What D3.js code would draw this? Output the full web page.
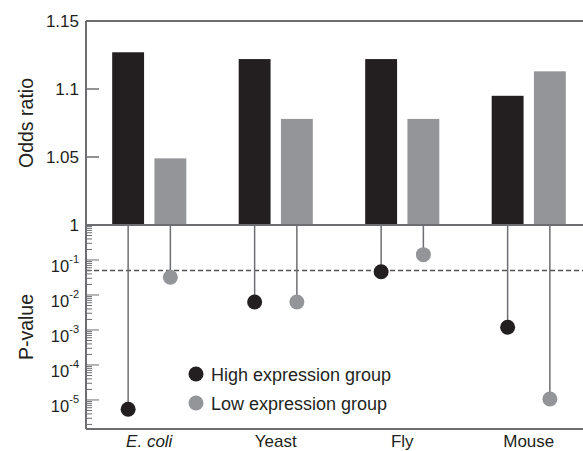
<!DOCTYPE html>
<html>
<head>
<meta charset="utf-8">
<script src="https://cdn.jsdelivr.net/npm/d3@7"></script>
<style>
  body { margin: 0; background: #fff; }
  text { font-family: "Liberation Sans", Arial, Helvetica, sans-serif; fill: #231f20; }
</style>
</head>
<body>
<script>
// values
let species = ["E. coli", "Yeast", "Fly", "Mouse"];
let groups = ["high", "low"];
let highOdds = [1.127, 1.122, 1.122, 1.095];
let lowOdds = [1.049, 1.078, 1.078, 1.113];
let highP = [5.4e-6, 0.0063, 0.046, 0.0012];
let lowP = [0.032, 0.0063, 0.142, 1.07e-5];
let oddsTicks = [1, 1.05, 1.1, 1.15];
let pExponents = [0, -1, -2, -3, -4, -5];
let legendLabels = ["High expression group", "Low expression group"];
let pCutoff = 0.05;

let width = 583, height = 451;
let plotLeft = 86, plotRight = 592, plotTop = 21, plotMid = 225, plotBottom = 429;
let colors = { high: "#231f20", low: "#939598" };
let axisColor = "#6d6e71";

let svg = d3.select("body")
    .append("svg")
    .attr("width", width)
    .attr("height", height);

let x = d3.scaleBand().domain(species).range([plotLeft, plotRight]);
let xs = d3.scaleBand().domain(groups).range([0, x.bandwidth()])
    .paddingInner(0.245).paddingOuter(0.62);

let yOdds = d3.scaleLinear().domain([1, 1.15]).range([plotMid, plotTop]);
let yP = d3.scaleLog().domain([1, Math.pow(10, -5.83)]).range([plotMid, plotBottom]);

let rows = species.map(function(s, i) {
  return [
    { sp: s, g: "high", odds: highOdds[i], p: highP[i] },
    { sp: s, g: "low", odds: lowOdds[i], p: lowP[i] }
  ];
}).flat();

function cx(d) { return x(d.sp) + xs(d.g) + xs.bandwidth() / 2; }

// bars
svg.append("g")
  .selectAll("rect")
  .data(rows)
  .join("rect")
  .attr("x", function(d) { return x(d.sp) + xs(d.g); })
  .attr("width", xs.bandwidth())
  .attr("y", function(d) { return yOdds(d.odds); })
  .attr("height", function(d) { return plotMid - yOdds(d.odds); })
  .attr("fill", function(d) { return colors[d.g]; });

// cutoff line
svg.append("line")
  .attr("x1", plotLeft).attr("x2", plotRight)
  .attr("y1", yP(pCutoff)).attr("y2", yP(pCutoff))
  .attr("stroke", "#555").attr("stroke-width", 1.5)
  .attr("stroke-dasharray", "5,3");

// lollipops
svg.append("g")
  .selectAll("line")
  .data(rows)
  .join("line")
  .attr("x1", cx).attr("x2", cx)
  .attr("y1", plotMid)
  .attr("y2", function(d) { return yP(d.p); })
  .attr("stroke", axisColor)
  .attr("stroke-width", 1.5);

svg.append("g")
  .selectAll("circle")
  .data(rows)
  .join("circle")
  .attr("cx", cx)
  .attr("cy", function(d) { return yP(d.p); })
  .attr("r", 7.5)
  .attr("fill", function(d) { return colors[d.g]; });

// frame
let frame = svg.append("g").attr("stroke", axisColor).attr("stroke-width", 2);
[plotTop, plotMid, plotBottom].forEach(function(y) {
  frame.append("line").attr("x1", plotLeft).attr("x2", plotRight).attr("y1", y).attr("y2", y);
});
frame.append("line").attr("x1", plotLeft).attr("x2", plotLeft).attr("y1", plotTop).attr("y2", plotBottom);

// odds ticks
let ot = svg.append("g");
ot.selectAll("line")
  .data(oddsTicks)
  .join("line")
  .attr("x1", plotLeft).attr("x2", plotLeft + 13)
  .attr("y1", yOdds).attr("y2", yOdds)
  .attr("stroke", axisColor).attr("stroke-width", 1.5);
ot.selectAll("text")
  .data(oddsTicks)
  .join("text")
  .attr("x", plotLeft - 7)
  .attr("y", function(d) { return yOdds(d) + 6; })
  .attr("text-anchor", "end")
  .attr("font-size", 17)
  .text(function(d) { return d3.format("")(d); });

// p-value ticks
let pTicks = yP.ticks();
svg.append("g")
  .selectAll("line")
  .data(pTicks)
  .join("line")
  .attr("x1", plotLeft)
  .attr("x2", function(d) {
    let e = Math.log10(d);
    return Math.abs(e - Math.round(e)) < 1e-9 ? plotLeft + 13 : plotLeft + 6;
  })
  .attr("y1", yP).attr("y2", yP)
  .attr("stroke", axisColor).attr("stroke-width", 1);

let pl = svg.append("g")
  .selectAll("text")
  .data(pExponents.filter(function(e) { return e < 0; }))
  .join("text")
  .attr("x", plotLeft - 7)
  .attr("y", function(e) { return yP(Math.pow(10, e)) + 12; })
  .attr("text-anchor", "end")
  .attr("font-size", 16.5);
pl.append("tspan").text("10");
pl.append("tspan")
  .attr("font-size", 11)
  .attr("dy", -9)
  .text(function(e) { return e; });

// axis titles
svg.append("text")
  .attr("transform", "translate(33," + ((plotTop + plotMid) / 2) + ") rotate(-90)")
  .attr("text-anchor", "middle")
  .attr("font-size", 19.5)
  .text("Odds ratio");
svg.append("text")
  .attr("transform", "translate(33," + ((plotMid + plotBottom) / 2) + ") rotate(-90)")
  .attr("text-anchor", "middle")
  .attr("font-size", 19.5)
  .text("P-value");

// category labels
svg.append("g")
  .selectAll("text")
  .data(species)
  .join("text")
  .attr("x", function(d) { return x(d) + x.bandwidth() / 2; })
  .attr("y", 447)
  .attr("text-anchor", "middle")
  .attr("font-size", 17)
  .attr("font-style", function(d, i) { return i === 0 ? "italic" : null; })
  .text(function(d) { return d; });

// legend
let lg = svg.append("g")
  .selectAll("g")
  .data(groups)
  .join("g")
  .attr("transform", function(d, i) { return "translate(196," + (374 + i * 29) + ")"; });
lg.append("circle").attr("r", 7.5).attr("fill", function(d) { return colors[d]; });
lg.append("text")
  .attr("x", 15).attr("y", 6.5)
  .attr("font-size", 18)
  .text(function(d, i) { return legendLabels[i]; });
</script>
</body>
</html>
